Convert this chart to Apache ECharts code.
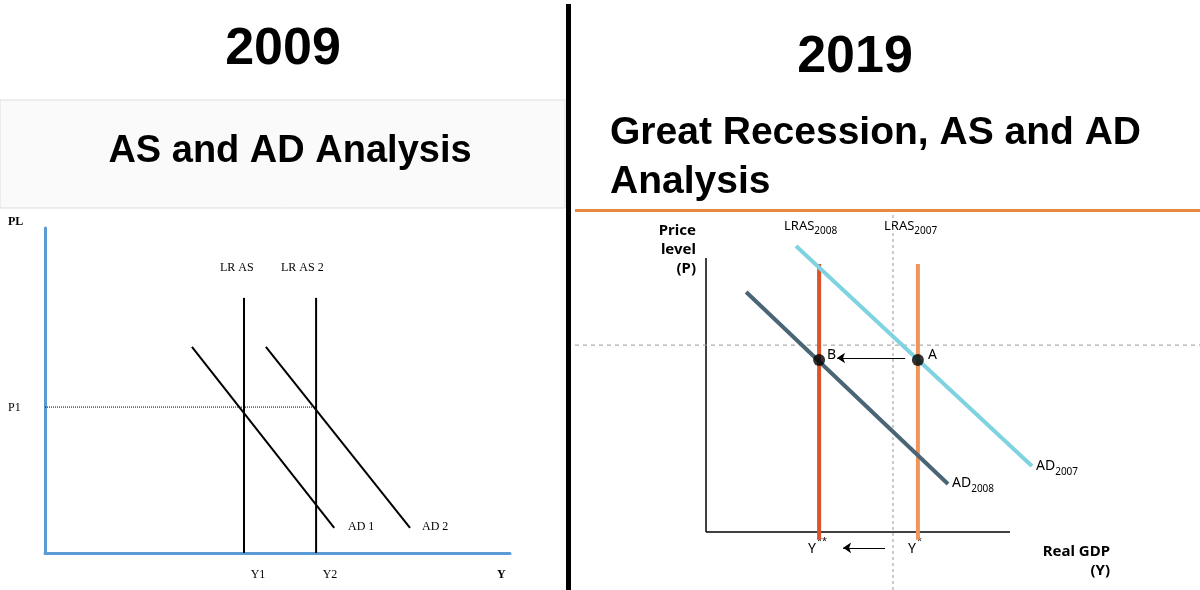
<!DOCTYPE html><html><head><meta charset="utf-8">
<script src="https://cdn.jsdelivr.net/npm/echarts@6/dist/echarts.min.js"></script>
<style>html,body{margin:0;background:#fff}#c{width:1200px;height:590px}</style></head><body><div id="c"></div>
<script>
// Left chart (units 0..10)
const lrAS1=[[4.28,0],[4.28,7.85]];
const lrAS2=[[5.83,0],[5.83,7.85]];
const ad1=[[3.16,6.34],[6.22,0.77]];
const ad2=[[4.75,6.34],[7.85,0.77]];
const p1Line=[[0,4.49],[5.83,4.49]];
// Right chart (axes span 0..10)
const rightXAxisLine=[[0,0],[10,0]];
const rightYAxisLine=[[0,0],[0,10]];
const lras2008=[[3.72,-0.29],[3.72,9.78]];
const lras2007=[[6.97,-0.29],[6.97,9.78]];
const ad2007=[[2.96,10.44],[10.72,2.41]];
const ad2008=[[1.32,8.76],[7.96,1.75]];
const vDotted=[[6.15,-2.12],[6.15,11.57]];
const hDashed=[[-4.31,6.82],[16.25,6.82]];
const pointsAB=[[3.72,6.28],[6.97,6.28]];
const arrowTop=[[6.55,6.35],[4.31,6.35]];
const arrowBot=[[5.89,-0.58],[4.51,-0.58]];

const c=echarts.init(document.getElementById('c'));
function ln(data,color,w,type,xi,extra){return Object.assign({type:'line',data,xAxisIndex:xi,yAxisIndex:xi,symbol:'none',clip:false,silent:true,lineStyle:{color,width:w,type:type||'solid'},z:3},extra||{});}
function arrow(d){return {type:'line',data:[],xAxisIndex:1,yAxisIndex:1,silent:true,markLine:{silent:true,symbol:['none','arrow'],symbolSize:8,label:{show:false},lineStyle:{color:'#000',width:1,type:'solid'},data:[[{coord:d[0]},{coord:d[1]}]]}};}
const serif='Liberation Serif';
const hid={axisLine:{show:false},axisTick:{show:false},axisLabel:{show:false},splitLine:{show:false}};
c.setOption({animation:false,
grid:[{left:45,top:228,width:465,height:325},{left:575,top:215,width:625,height:375}],
xAxis:[Object.assign({type:'value',min:0,max:10,gridIndex:0},hid,{axisLine:{lineStyle:{color:'#5b9bd5',width:3}}}),
Object.assign({type:'value',min:-4.31,max:16.25,gridIndex:1},hid)],
yAxis:[Object.assign({type:'value',min:0,max:10,gridIndex:0},hid,{axisLine:{show:true,lineStyle:{color:'#5b9bd5',width:3}}}),
Object.assign({type:'value',min:-2.12,max:11.57,gridIndex:1},hid)],
series:[
ln(p1Line,'#000',1,'dotted',0),
ln(lrAS1,'#000',2,null,0),ln(lrAS2,'#000',2,null,0),
ln(ad1,'#000',2,null,0),ln(ad2,'#000',2,null,0),
ln(rightXAxisLine,'#000',1.5,null,1),ln(rightYAxisLine,'#000',1.5,null,1),
ln(vDotted,'#999',1,[3,3],1),ln(hDashed,'#999',1,[4,4],1),
ln(lras2008,'#d9532b',4,null,1),ln(lras2007,'#f0965a',4,null,1),
ln(ad2007,'#7fd3e0',4,null,1),ln(ad2008,'#4a6575',4,null,1),
arrow(arrowTop),arrow(arrowBot),
{type:'scatter',data:pointsAB,xAxisIndex:1,yAxisIndex:1,symbolSize:12,itemStyle:{color:'#000'},z:5,silent:true}
]});
const T=(x,y,text,font,extra)=>({type:'text',x,y,style:Object.assign({text,font,fill:'#000'},extra||{})});
const sub={fontFamily:'Noto Sans',fontSize:10,verticalAlign:'bottom',padding:[0,0,-4,0]};
c.setOption({graphic:[
{type:'rect',shape:{x:0,y:100,width:565,height:108},style:{fill:'#fafafa',stroke:'#ddd'},z:-1},
{type:'rect',shape:{x:566,y:4,width:5,height:586},style:{fill:'#000'}},
{type:'rect',shape:{x:575,y:209,width:625,height:3},style:{fill:'#e8893f'}},
T(283,50,'2009','bold 52px "Liberation Sans"',{align:'center',verticalAlign:'middle'}),
T(855,58,'2019','bold 52px "Liberation Sans"',{align:'center',verticalAlign:'middle'}),
T(290,152,'AS and AD Analysis','bold 38px "Liberation Sans"',{align:'center',verticalAlign:'middle'}),
T(610,133,'Great Recession, AS and AD','bold 39px "Liberation Sans"',{verticalAlign:'middle'}),
T(610,182,'Analysis','bold 39px "Liberation Sans"',{verticalAlign:'middle'}),
T(8,222,'PL','bold 12px "'+serif+'"',{verticalAlign:'middle'}),
T(8,408,'P1','12px "'+serif+'"',{verticalAlign:'middle'}),
T(497,575,'Y','bold 12px "'+serif+'"',{verticalAlign:'middle'}),
T(258,575,'Y1','12px "'+serif+'"',{align:'center',verticalAlign:'middle'}),
T(330,575,'Y2','12px "'+serif+'"',{align:'center',verticalAlign:'middle'}),
T(220,268,'LR AS','12px "'+serif+'"',{verticalAlign:'middle'}),
T(281,268,'LR AS 2','12px "'+serif+'"',{verticalAlign:'middle'}),
T(348,527,'AD 1','12px "'+serif+'"',{verticalAlign:'middle'}),
T(422,527,'AD 2','12px "'+serif+'"',{verticalAlign:'middle'}),
{type:'text',x:784,y:226,style:{text:'LRAS{s|2008}',font:'13px "Noto Sans"',fill:'#000',verticalAlign:'middle',rich:{s:sub}}},
{type:'text',x:884,y:226,style:{text:'LRAS{s|2007}',font:'13px "Noto Sans"',fill:'#000',verticalAlign:'middle',rich:{s:sub}}},
{type:'text',x:1036,y:466,style:{text:'AD{s|2007}',font:'14px "Noto Sans"',fill:'#000',verticalAlign:'middle',rich:{s:sub}}},
{type:'text',x:952,y:483,style:{text:'AD{s|2008}',font:'14px "Noto Sans"',fill:'#000',verticalAlign:'middle',rich:{s:sub}}},
T(827,355,'B','14px "Noto Sans"',{verticalAlign:'middle'}),
T(928,355,'A','14px "Noto Sans"',{verticalAlign:'middle'}),
T(808,549,'Y','14px "Noto Sans"',{verticalAlign:'middle'}),
T(817,541,'**','9px "Noto Sans"',{verticalAlign:'middle'}),
T(908,549,'Y','14px "Noto Sans"',{verticalAlign:'middle'}),
T(917,541,'*','9px "Noto Sans"',{verticalAlign:'middle'}),
T(696,250,'Price\nlevel\n(P)','bold 15px "Noto Sans"',{align:'right',verticalAlign:'middle',lineHeight:19}),
T(1110,561,'Real GDP\n(Y)','bold 15px "Noto Sans"',{align:'right',verticalAlign:'middle',lineHeight:19})
]});
</script></body></html>
